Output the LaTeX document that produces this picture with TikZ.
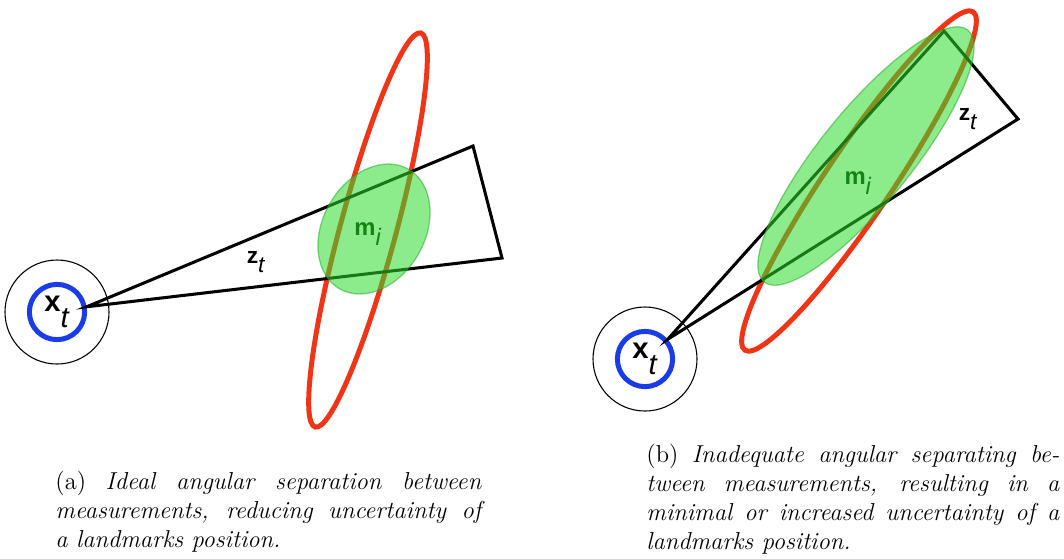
\documentclass[tikz,border=0pt]{standalone}
\usepackage{fontspec}
\setsansfont{Liberation Sans}
\usetikzlibrary{positioning}
\definecolor{ellred}{RGB}{242,52,22}
\definecolor{posblue}{RGB}{25,60,230}
\definecolor{estgreen}{RGB}{45,220,45}
\definecolor{lblgreen}{RGB}{20,130,20}

\newcommand{\symsub}[3]{\textbf{#1}\raisebox{#3}{\textit{#2}}}

\tikzset{
  poseouter/.style={circle, draw=black, line width=0.5pt, minimum size=48pt, inner sep=0pt},
  posenode/.style={circle, draw=posblue, line width=2.3pt, minimum size=25.5pt, inner sep=0pt,
                   font=\sffamily\fontsize{13.5}{15}\selectfont},
  beam/.style={draw=black, line width=1.4pt},
  landmark/.style={draw=ellred, line width=2.3pt},
  estimate/.style={fill=estgreen, fill opacity=0.55, draw=estgreen!75!black, draw opacity=0.5, line width=0.6pt},
  measlabel/.style={font=\sffamily\fontsize{10.5}{12}\selectfont, inner sep=0pt},
  marklabel/.style={font=\sffamily\fontsize{11}{13}\selectfont, text=lblgreen, inner sep=0pt},
  caption/.style={anchor=south west, inner sep=0pt, align=justify, font=\fontsize{11.3}{13.5}\selectfont}
}

\begin{document}
\begin{tikzpicture}[x=0.4615pt, y=-0.4615pt]
  \useasboundingbox (0,0) rectangle (1064,558);

  % (a) ideal separation
  \node[poseouter] (ringa) at (57,312) {};
  \node[posenode] (posea) at (57,312) {\symsub{x}{t}{-7.5pt}};
  \coordinate (fara) at (473,146);
  \coordinate (neara) at (502,258);
  \draw[landmark, rotate around={75:(368,230)}] (368,230) ellipse [x radius=204, y radius=28];
  \draw[beam] (posea.10) -- (fara) -- (neara) -- cycle;
  \draw[estimate, rotate around={60:(374,229)}] (374,229) ellipse [x radius=69, y radius=51];
  \node[measlabel] (za) at (256,262) {\symsub{z}{t}{-4.5pt}};
  \node[marklabel] (ma) at (368,234) {\symsub{m}{i}{-4.5pt}};

  % (b) inadequate separation
  \node[poseouter] (ringb) at (645,359) {};
  \node[posenode] (poseb) at (645,359) {\symsub{x}{t}{-7.5pt}};
  \coordinate (farb) at (944,31);
  \coordinate (nearb) at (1018,119);
  \draw[landmark, rotate around={56:(859,181)}] (859,181) ellipse [x radius=204, y radius=33];
  \draw[beam] (poseb.41) -- (farb) -- (nearb) -- cycle;
  \draw[estimate, rotate around={51:(866,156)}] (866,156) ellipse [x radius=162, y radius=46];
  \node[measlabel] (zb) at (968,119) {\symsub{z}{t}{-4.5pt}};
  \node[marklabel] (mb) at (858,183) {\symsub{m}{i}{-4.5pt}};

  % captions
  \node[caption, text width=196.5pt] (capa) at (55,553)
    {(a) \textit{Ideal angular separation between\linebreak measurements, reducing uncertainty of\linebreak a landmarks position.}};
  \node[caption, text width=190.6pt] (capb) at (646,555)
    {(b) \textit{Inadequate angular separating be-\linebreak tween measurements, resulting in a\linebreak minimal or increased uncertainty of a\linebreak landmarks position.}};
\end{tikzpicture}
\end{document}
